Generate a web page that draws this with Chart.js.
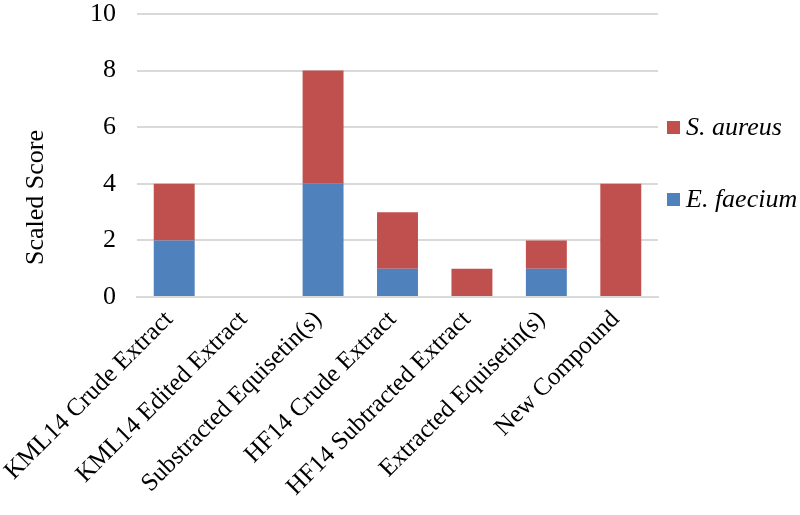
<!DOCTYPE html>
<html>
<head>
<meta charset="utf-8">
<script src="https://cdn.jsdelivr.net/npm/chart.js@4"></script>
<style>
  html, body { margin: 0; padding: 0; background: #fff; }
  #wrap { width: 800px; height: 515px; position: relative; }
</style>
</head>
<body>
<div id="wrap"><canvas id="myChart"></canvas></div>
<script>
  const categories = [
    'KML14 Crude Extract',
    'KML14 Edited Extract',
    'Substracted Equisetin(s)',
    'HF14 Crude Extract',
    'HF14 Subtracted Extract',
    'Extracted Equisetin(s)',
    'New Compound'
  ];
  // stacked segments: blue at the bottom, red on top
  const eFaecium = [2, 0, 4, 1, 0, 1, 0];
  const sAureus = [2, 0, 4, 2, 1, 1, 4];
  const seriesNames = ['E. faecium', 'S. aureus'];
  const yTicks = [0, 2, 4, 6, 8, 10];
  const yTitle = 'Scaled Score';

  const serif = '"Liberation Serif", "Times New Roman", serif';

  // y title (sits lower than the plot centre) and the right-hand legend
  const sideText = {
    id: 'sideText',
    afterDraw(chart) {
      const ctx = chart.ctx;
      const area = chart.chartArea;
      const midY = (area.top + area.bottom) / 2;
      ctx.save();
      ctx.fillStyle = '#000';
      ctx.font = '26px ' + serif;
      ctx.textAlign = 'center';
      ctx.textBaseline = 'middle';
      ctx.translate(36, midY + 42);
      ctx.rotate(-Math.PI / 2);
      ctx.fillText(yTitle, 0, 0);
      ctx.restore();

      const items = chart.data.datasets.slice().reverse();
      const gap = 72;
      ctx.save();
      ctx.font = 'italic 26px ' + serif;
      ctx.textBaseline = 'middle';
      ctx.textAlign = 'left';
      items.forEach((ds, i) => {
        const y = midY + 8 + (i - (items.length - 1) / 2) * gap;
        ctx.fillStyle = ds.backgroundColor;
        ctx.fillRect(area.right + 9, y - 6.5, 13, 13);
        ctx.fillStyle = '#000';
        ctx.fillText(ds.label, area.right + 28, y + 1);
      });
      ctx.restore();
    }
  };

  const ctx = document.getElementById('myChart').getContext('2d');
  const myChart = new Chart(ctx, {
    type: 'bar',
    data: {
      labels: categories,
      datasets: [
        {
          label: seriesNames[0],
          data: eFaecium,
          backgroundColor: '#4f81bd',
          categoryPercentage: 1,
          barPercentage: 0.55
        },
        {
          label: seriesNames[1],
          data: sAureus,
          backgroundColor: '#c0504d',
          categoryPercentage: 1,
          barPercentage: 0.55
        }
      ]
    },
    options: {
      responsive: true,
      maintainAspectRatio: false,
      animation: false,
      layout: { padding: { top: 0, right: 142, bottom: 5, left: 0 } },
      plugins: {
        legend: { display: false },
        tooltip: { enabled: false }
      },
      scales: {
        x: {
          stacked: true,
          afterFit: axis => {
            axis.paddingLeft = 0;
            axis.paddingRight = 0;
          },
          grid: { display: false, drawTicks: false },
          border: { display: true, color: '#d9d9d9', width: 2 },
          ticks: {
            color: '#000',
            font: { family: serif, size: 25 },
            minRotation: 45,
            maxRotation: 45,
            autoSkip: false,
            padding: 8,
            labelOffset: -5
          }
        },
        y: {
          stacked: true,
          min: 0,
          max: 10,
          afterBuildTicks: axis => { axis.ticks = yTicks.map(v => ({ value: v })); },
          afterFit: axis => {
            axis.width = 137;
            axis.paddingTop = 14;
            axis.paddingBottom = 14;
          },
          grid: { color: '#d9d9d9', lineWidth: 2, drawTicks: false },
          border: { display: false },
          ticks: {
            color: '#000',
            font: { family: serif, size: 26 },
            padding: 21
          }
        }
      }
    },
    plugins: [sideText]
  });
</script>
</body>
</html>
